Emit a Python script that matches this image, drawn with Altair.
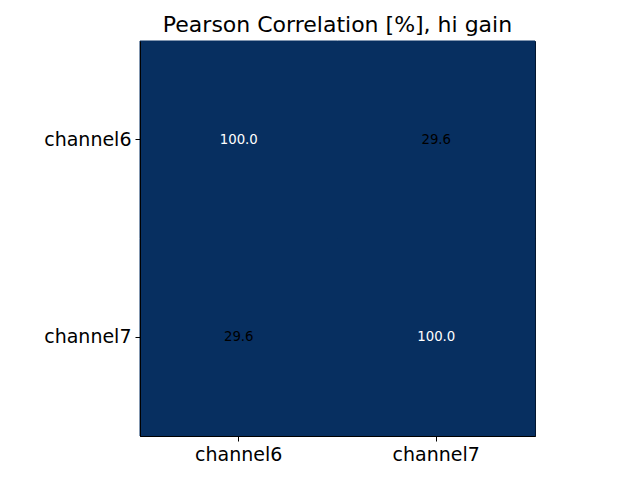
import altair as alt
import pandas as pd

channels = ["channel6", "channel7"]
rows = ["channel6", "channel6", "channel7", "channel7"]
cols = ["channel6", "channel7", "channel6", "channel7"]
values = [100.0, 29.6, 29.6, 100.0]
labels = ["100.0", "29.6", "29.6", "100.0"]

df = pd.DataFrame({"row": rows, "col": cols, "value": values, "label": labels})

font = "DejaVu Sans"

x_enc = alt.X("col:N", sort=channels, title=None,
              scale=alt.Scale(paddingInner=0, paddingOuter=0),
              axis=alt.Axis(labelAngle=0, labelFont=font, labelFontSize=19,
                            labelColor="black", tickColor="black", domainColor="black",
                            tickSize=5, labelPadding=4, grid=False))
y_enc = alt.Y("row:N", sort=channels, title=None,
              scale=alt.Scale(paddingInner=0, paddingOuter=0),
              axis=alt.Axis(labelFont=font, labelFontSize=19,
                            labelColor="black", tickColor="black", domainColor="black",
                            tickSize=5, labelPadding=4, grid=False))

base = alt.Chart(df)

cells = base.mark_rect(color="#072f60", stroke="#072f60", strokeWidth=1).encode(x=x_enc, y=y_enc)

text = base.mark_text(font=font, fontSize=13.3, baseline="middle", align="center").encode(
    x=x_enc, y=y_enc, text="label:N",
    color=alt.condition(alt.datum.value > 50, alt.value("white"), alt.value("black")),
)

chart = (cells + text).properties(
    width=395, height=395,
    title=alt.TitleParams("Pearson Correlation [%], hi gain", font=font, fontSize=22,
                          fontWeight="normal", color="black", anchor="middle",
                          baseline="alphabetic", offset=9, dy=22),
    autosize=alt.AutoSizeParams(type="none"),
    padding={"left": 132, "top": 33, "right": 97, "bottom": 36},
).configure_view(stroke="black", strokeWidth=1)

chart.save("out.html", embed_options={"renderer": "svg", "actions": False})
